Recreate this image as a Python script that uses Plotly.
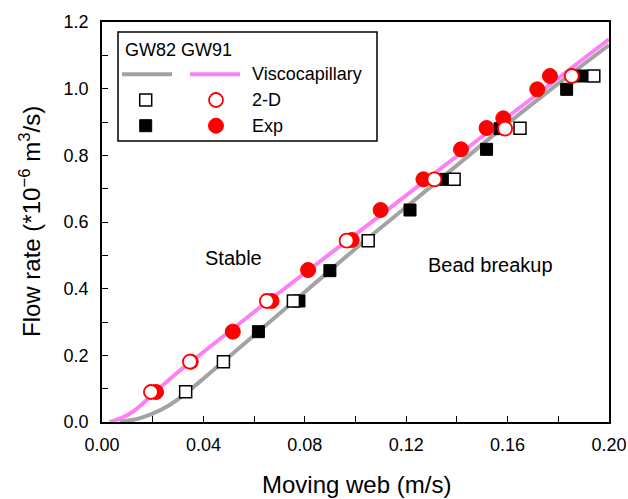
import plotly.graph_objects as go

# ---- data ----
visc_gw82_x = [0.007, 0.012, 0.016, 0.020, 0.026, 0.032, 0.040, 0.050, 0.060, 0.080, 0.100, 0.120, 0.140, 0.160, 0.180, 0.200]
visc_gw82_y = [0.000, 0.006, 0.014, 0.025, 0.048, 0.080, 0.130, 0.195, 0.260, 0.390, 0.520, 0.645, 0.770, 0.895, 1.015, 1.131]
visc_gw91_x = [0.003, 0.008, 0.012, 0.016, 0.020, 0.030, 0.040, 0.060, 0.080, 0.100, 0.120, 0.140, 0.160, 0.180, 0.200]
visc_gw91_y = [0.000, 0.013, 0.030, 0.055, 0.083, 0.150, 0.210, 0.330, 0.447, 0.563, 0.680, 0.798, 0.915, 1.032, 1.148]

exp_gw82_x = [0.0617, 0.0777, 0.0899, 0.1215, 0.1355, 0.1517, 0.1570, 0.1833, 0.1890]
exp_gw82_y = [0.271, 0.363, 0.454, 0.636, 0.728, 0.818, 0.880, 0.998, 1.038]
sim_gw82_x = [0.0330, 0.0479, 0.0755, 0.1050, 0.1389, 0.1649, 0.1940]
sim_gw82_y = [0.091, 0.181, 0.363, 0.544, 0.728, 0.881, 1.038]

exp_gw91_x = [0.0213, 0.0350, 0.0516, 0.0669, 0.0813, 0.0985, 0.1099, 0.1268, 0.1416, 0.1517, 0.1583, 0.1717, 0.1767]
exp_gw91_y = [0.090, 0.181, 0.271, 0.363, 0.456, 0.546, 0.636, 0.728, 0.818, 0.882, 0.911, 0.998, 1.038]
sim_gw91_x = [0.0193, 0.0347, 0.0650, 0.0965, 0.1311, 0.1590, 0.1853]
sim_gw91_y = [0.090, 0.181, 0.363, 0.544, 0.728, 0.880, 1.038]

x_ticks = [0.00, 0.04, 0.08, 0.12, 0.16, 0.20]
y_ticks = [0.0, 0.2, 0.4, 0.6, 0.8, 1.0, 1.2]

GRAY = "#a3a3a3"
PINK = "#ff80f4"
RED = "#ff0000"
FONT = "Liberation Sans, Arial, sans-serif"

W, H = 628, 499
L, R, T, B = 102, 19, 22, 77

fig = go.Figure()

fig.add_trace(go.Scatter(x=visc_gw82_x, y=visc_gw82_y, mode="lines",
                         line=dict(color=GRAY, width=4, shape="spline", smoothing=0.8), showlegend=False))
fig.add_trace(go.Scatter(x=visc_gw91_x, y=visc_gw91_y, mode="lines",
                         line=dict(color=PINK, width=4, shape="spline", smoothing=0.8), showlegend=False))

sq_size, ci_size = 12, 14
fig.add_trace(go.Scatter(x=exp_gw82_x, y=exp_gw82_y, mode="markers",
                         marker=dict(symbol="square", size=sq_size, color="black",
                                     line=dict(color="black", width=1)), showlegend=False))
fig.add_trace(go.Scatter(x=sim_gw82_x, y=sim_gw82_y, mode="markers",
                         marker=dict(symbol="square", size=sq_size, color="white",
                                     line=dict(color="black", width=1.5)), showlegend=False))
fig.add_trace(go.Scatter(x=exp_gw91_x, y=exp_gw91_y, mode="markers",
                         marker=dict(symbol="circle", size=ci_size + 1, color=RED,
                                     line=dict(color=RED, width=1)), showlegend=False))
fig.add_trace(go.Scatter(x=sim_gw91_x, y=sim_gw91_y, mode="markers",
                         marker=dict(symbol="circle", size=ci_size, color="white",
                                     line=dict(color=RED, width=1.8)), showlegend=False))

# ---- legend drawn on a pixel overlay axis ----
fig.add_trace(go.Scatter(x=[122, 172], y=[74.3, 74.3], mode="lines", xaxis="x2", yaxis="y2",
                         line=dict(color=GRAY, width=4), showlegend=False, hoverinfo="skip"))
fig.add_trace(go.Scatter(x=[190, 240], y=[74.3, 74.3], mode="lines", xaxis="x2", yaxis="y2",
                         line=dict(color=PINK, width=4), showlegend=False, hoverinfo="skip"))
fig.add_trace(go.Scatter(x=[145.7], y=[100], mode="markers", xaxis="x2", yaxis="y2",
                         marker=dict(symbol="square", size=sq_size, color="white",
                                     line=dict(color="black", width=1.5)), showlegend=False, hoverinfo="skip"))
fig.add_trace(go.Scatter(x=[145.7], y=[125.7], mode="markers", xaxis="x2", yaxis="y2",
                         marker=dict(symbol="square", size=sq_size, color="black",
                                     line=dict(color="black", width=1)), showlegend=False, hoverinfo="skip"))
fig.add_trace(go.Scatter(x=[216], y=[100], mode="markers", xaxis="x2", yaxis="y2",
                         marker=dict(symbol="circle", size=ci_size, color="white",
                                     line=dict(color=RED, width=1.8)), showlegend=False, hoverinfo="skip"))
fig.add_trace(go.Scatter(x=[216], y=[125.7], mode="markers", xaxis="x2", yaxis="y2",
                         marker=dict(symbol="circle", size=ci_size + 1, color=RED,
                                     line=dict(color=RED, width=1)), showlegend=False, hoverinfo="skip"))

def ppx(X):
    return (X - L) / (W - L - R)

def ppy(Y):
    return (H - B - Y) / (H - T - B)

shapes = [dict(type="rect", xref="paper", yref="paper",
               x0=ppx(118), x1=ppx(377), y0=ppy(141), y1=ppy(32),
               line=dict(color="black", width=1.5), fillcolor="rgba(0,0,0,0)", layer="below")]

annotations = [
    dict(x=ppx(123), y=ppy(50), xref="paper", yref="paper", text="GW82 GW91", showarrow=False,
         xanchor="left", yanchor="middle", font=dict(size=18, color="black", family=FONT)),
    dict(x=ppx(250), y=ppy(74), xref="paper", yref="paper", text="Viscocapillary", showarrow=False,
         xanchor="left", yanchor="middle", font=dict(size=18, color="black", family=FONT)),
    dict(x=ppx(250), y=ppy(100), xref="paper", yref="paper", text="2-D", showarrow=False,
         xanchor="left", yanchor="middle", font=dict(size=18, color="black", family=FONT)),
    dict(x=ppx(250), y=ppy(126), xref="paper", yref="paper", text="Exp", showarrow=False,
         xanchor="left", yanchor="middle", font=dict(size=18, color="black", family=FONT)),
    dict(x=ppx(233), y=ppy(258), xref="paper", yref="paper", text="Stable", showarrow=False,
         xanchor="center", yanchor="middle", font=dict(size=20, color="black", family=FONT)),
    dict(x=ppx(490), y=ppy(265), xref="paper", yref="paper", text="Bead breakup", showarrow=False,
         xanchor="center", yanchor="middle", font=dict(size=20, color="black", family=FONT)),
    dict(x=ppx(356), y=ppy(484), xref="paper", yref="paper", text="Moving web (m/s)", showarrow=False,
         xanchor="center", yanchor="middle", font=dict(size=24, color="black", family=FONT)),
    dict(x=ppx(30), y=ppy(222), xref="paper", yref="paper",
         text="Flow rate (*10<sup>\u22126</sup> m<sup>3</sup>/s)", showarrow=False, textangle=-90,
         xanchor="center", yanchor="middle", font=dict(size=24, color="black", family=FONT)),
]

axis_common = dict(showgrid=False, zeroline=False, showline=True, linecolor="black", linewidth=1.5,
                   mirror=True, ticks="inside", ticklen=6, tickwidth=1.2, tickcolor="black",
                   automargin=False,
                   tickfont=dict(size=18, color="black", family=FONT))

fig.update_layout(
    width=W, height=H,
    autosize=False,
    margin=dict(l=L, r=R, t=T, b=B, pad=0, autoexpand=False),
    plot_bgcolor="white", paper_bgcolor="white",
    showlegend=False,
    xaxis=dict(range=[0, 0.20], tickvals=x_ticks, ticktext=[f"{v:.2f}" for v in x_ticks],
               minor=dict(ticks="inside", ticklen=6, tickwidth=1.2, tickcolor="black", dtick=0.02),
               ticklabelstandoff=6, **axis_common),
    yaxis=dict(range=[0, 1.2], tickvals=y_ticks, ticktext=[f"{v:.1f}" for v in y_ticks],
               minor=dict(ticks="inside", ticklen=6, tickwidth=1.2, tickcolor="black", dtick=0.1),
               ticklabelstandoff=8, **axis_common),
    xaxis2=dict(range=[L, W - R], overlaying="x", visible=False, fixedrange=True, automargin=False),
    yaxis2=dict(range=[H - B, T], overlaying="y", visible=False, fixedrange=True, automargin=False),
    shapes=shapes,
    annotations=annotations,
)

fig.write_html("out.html")
